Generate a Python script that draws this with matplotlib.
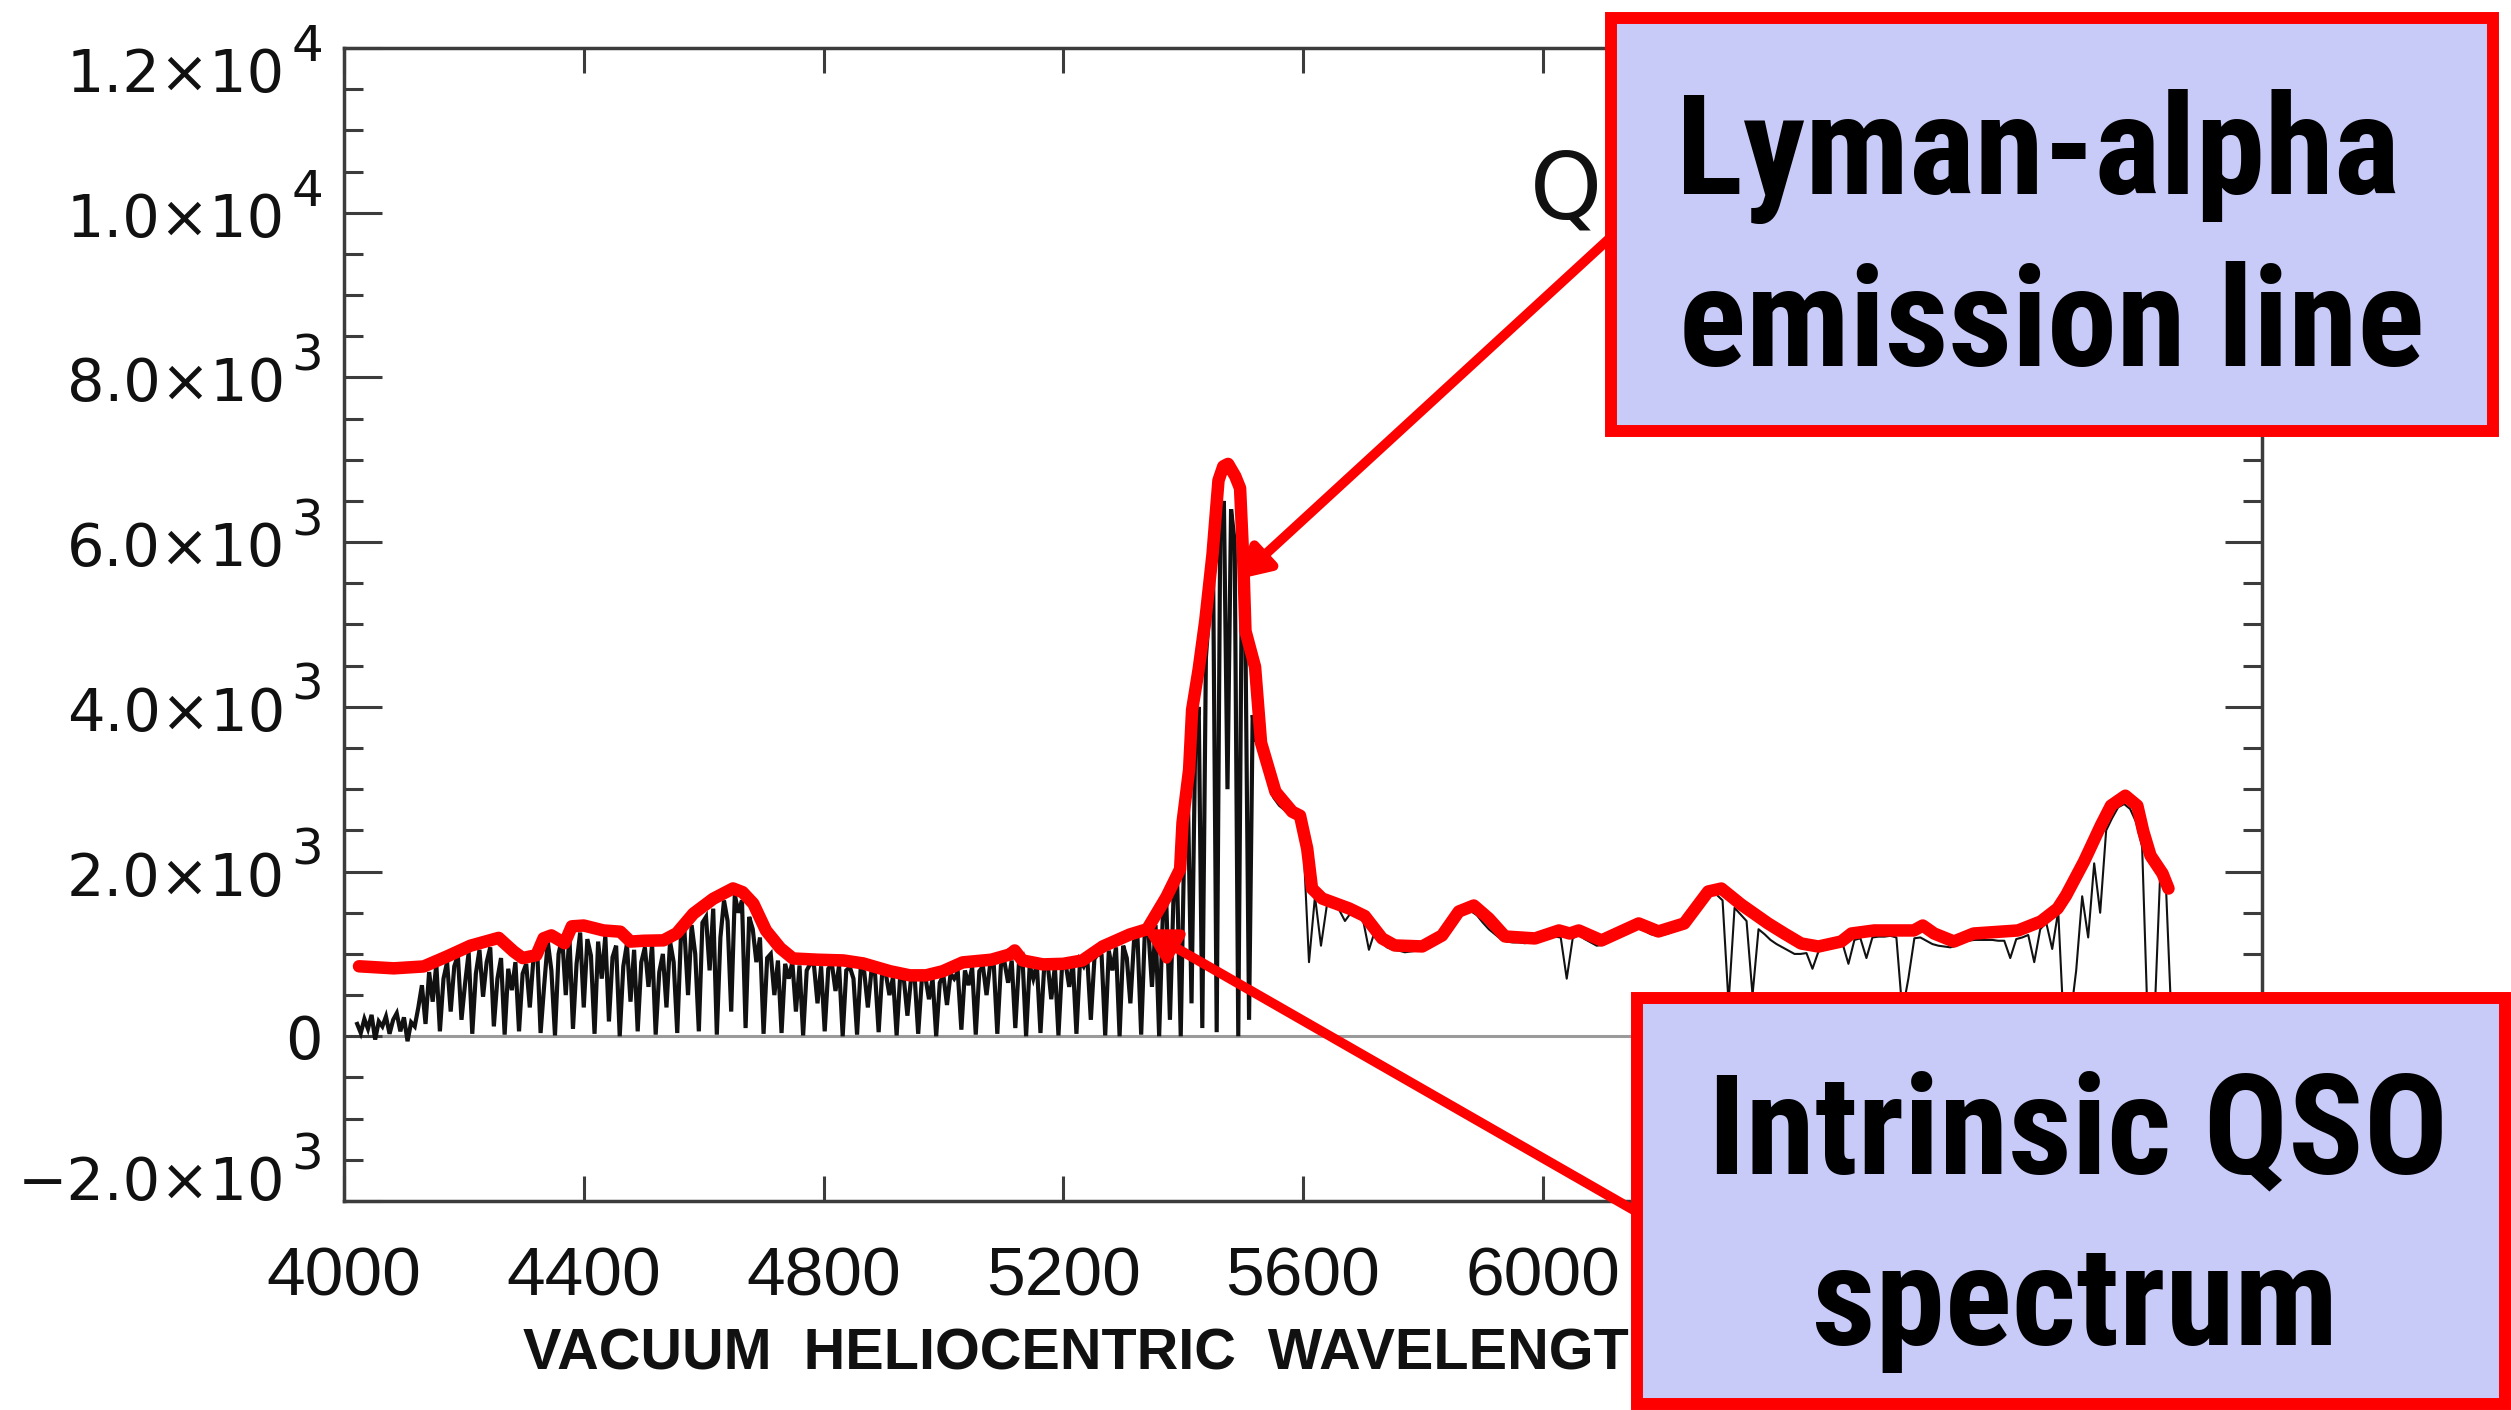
import numpy as np
import matplotlib
matplotlib.use("Agg")
import matplotlib.pyplot as plt
import matplotlib.transforms as mtransforms
from matplotlib.patches import Rectangle
from matplotlib.ticker import MultipleLocator, NullLocator

W, H = 2511, 1410

# --- observed spectrum (black), read off the picture ---
# blue side: 6 A pixels starting at 4022 A (noisy floor, then the Ly-alpha forest)
blue_start, blue_step = 4022, 6
blue_flux = [
    150, 40, 210, 90, 260, -40, 180, 120, 240, 30, 200, 280, 60, 230, -60, 170, 120,  # 4022-4118
    350, 620, 150, 780, 420, 880, 60, 700, 900, 300,          # 4124
    850, 980, 200, 640, 1020, 30, 760, 1050, 480, 900,        # 4184
    1080, 120, 700, 950, 20, 820, 560, 900, 60, 760,          # 4244
    880, 350, 940, 1100, 40, 620, 1150, 800, 10, 1000,        # 4304
    1200, 500, 1230, 90, 880, 1260, 350, 1180, 980, 30,       # 4364
    1150, 700, 1220, 180, 960, 1100, 0, 850, 1120, 420,       # 4424
    1050, 60, 900, 1080, 600, 1120, 20, 780, 1000, 350,       # 4484
    1150, 900, 40, 1200, 1280, 500, 1350, 1000, 60, 1380,     # 4544
    1450, 800, 1550, 20, 1200, 1650, 1400, 300, 1720, 1500,   # 4604
    1650, 100, 1450, 1300, 900, 1200, 30, 950, 1000, 500,     # 4664
    920, 40, 880, 700, 900, 300, 860, 10, 800, 880,           # 4724
    870, 400, 850, 60, 820, 880, 550, 860, 0, 800,            # 4784
    840, 700, 20, 820, 780, 350, 800, 760, 50, 790,           # 4844
    760, 500, 720, 10, 740, 700, 250, 700, 730, 30,           # 4904
    690, 720, 450, 700, 0, 650, 740, 380, 760, 700,           # 4964
    780, 80, 800, 620, 840, 20, 790, 850, 500, 870,           # 5024
    880, 30, 860, 900, 650, 920, 100, 880, 950, 0,            # 5084
    860, 700, 870, 40, 820, 880, 450, 850, 10, 860,           # 5144
    880, 600, 900, 30, 920, 850, 960, 200, 940, 1000,         # 5204
    980, 10, 1040, 800, 1080, 0, 1100, 950, 400, 1150,        # 5264
    1180, 20, 1250, 1300, 600, 1350, 0, 1450, 1600, 200,      # 5324
    1700, 1900, 0, 2400, 2900, 400, 3500, 4000, 100, 4600,    # 5384
    5200, 5700, 50, 6200, 6500, 3000, 6400, 6000, 0, 5600,    # 5444
    4800, 200, 3900, 3600,                                    # 5504
]
# red side: 10 A pixels starting at 5530 A
red_start, red_step = 5530, 10
red_flux = [
    3450, 3150, 2900, 2800, 2740, 2680, 2640, 2450, 900, 1700,    # 5530
    1100, 1600, 1570, 1540, 1400, 1500, 1460, 1420, 1050, 1280,   # 5630
    1150, 1080, 1050, 1040, 1020, 1030, 1040, 1060, 1100, 1150,   # 5730
    1200, 1300, 1420, 1480, 1560, 1520, 1470, 1380, 1300, 1240,   # 5830
    1180, 1150, 1140, 1140, 1130, 1140, 1150, 1170, 1200, 1210,   # 5930
    1200, 700, 1190, 1230, 1180, 1140, 1100, 1110, 1150, 1190,    # 6030
    1230, 1270, 1300, 1310, 1280, 1240, 1220, 1230, 1250, 1280,   # 6130
    1320, 1380, 1470, 1600, 1700, 1740, 1720, 1650, 400, 1560,    # 6230
    1480, 1400, 500, 1300, 1240, 1170, 1120, 1080, 1040, 1000,    # 6330
    1000, 1010, 820, 1030, 1050, 1070, 1100, 1130, 880, 1170,     # 6430
    1190, 950, 1200, 1210, 1210, 1220, 1200, 300, 700, 1190,      # 6530
    1200, 1160, 1120, 1100, 1090, 1080, 1100, 1140, 1160, 1170,   # 6630
    1170, 1170, 1170, 1160, 1160, 950, 1180, 1200, 1230, 900,     # 6730
    1300, 1380, 1060, 1520, 0, 200, 800, 1700, 1200, 2100,        # 6830
    1500, 2500, 2650, 2780, 2820, 2760, 2600, 2300, 0, 100,       # 6930
    1950, 1780, 0,                                                # 7030
]

# --- hand-drawn intrinsic continuum (red) ---
cont_wave = [4025, 4083, 4133, 4172, 4211, 4258, 4283, 4298, 4321, 4333, 4346, 4368,
             4380, 4400, 4433, 4461, 4478, 4500, 4533, 4555, 4583, 4616, 4649, 4665,
             4683, 4704, 4728, 4749, 4790, 4833, 4866, 4911, 4944, 4971, 4999, 5032,
             5080, 5111, 5119, 5132, 5166, 5200, 5232, 5266, 5311, 5340, 5372, 5395,
             5399, 5410, 5415, 5426, 5437, 5449, 5459, 5467, 5475, 5487, 5495, 5500,
             5504, 5520, 5530, 5554, 5582, 5595, 5607, 5615, 5632, 5677, 5703, 5732,
             5753, 5799, 5832, 5860, 5885, 5910, 5937, 5987, 6027, 6045, 6060, 6098,
             6160, 6193, 6236, 6276, 6298, 6331, 6376, 6403, 6431, 6460, 6498, 6515,
             6553, 6619, 6634, 6653, 6686, 6719, 6793, 6831, 6859, 6873, 6903, 6931,
             6948, 6972, 6992, 7002, 7014, 7034, 7044]
cont_flux = [850, 825, 848, 970, 1100, 1195, 1030, 950, 985, 1190, 1225, 1130,
             1335, 1345, 1285, 1270, 1150, 1160, 1165, 1250, 1490, 1670, 1795, 1750,
             1610, 1285, 1070, 945, 930, 921, 885, 790, 740, 740, 790, 897,
             930, 994, 1042, 921, 873, 880, 921, 1091, 1236, 1300, 1690, 2030,
             2594, 3236, 3964, 4460, 5050, 5850, 6750, 6920, 6950, 6800, 6655, 5842,
             4921, 4485, 3564, 2970, 2727, 2679, 2279, 1794, 1673, 1552, 1460, 1188,
             1103, 1091, 1224, 1515, 1588, 1430, 1212, 1188, 1285, 1248, 1285, 1164,
             1370, 1273, 1370, 1758, 1794, 1600, 1370, 1248, 1127, 1090, 1151, 1248,
             1285, 1285, 1345, 1248, 1151, 1248, 1285, 1394, 1552, 1709, 2121, 2558,
             2800, 2921, 2800, 2485, 2194, 1976, 1794]

xtick_vals = [4000, 4400, 4800, 5200, 5600, 6000, 6400, 6800, 7200]
xtick_shown = [4000, 4400, 4800, 5200, 5600, 6000]   # the rest sit under the lower box
ytick_vals = [-2000, 0, 2000, 4000, 6000, 8000, 10000, 12000]
ytick_mant = ["\u22122.0\u00d710", "0", "2.0\u00d710", "4.0\u00d710", "6.0\u00d710",
              "8.0\u00d710", "1.0\u00d710", "1.2\u00d710"]
ytick_exp = ["3", "", "3", "3", "3", "3", "4", "4"]
ytick_nudge = {12000: -20, -2000: 25}   # end labels pulled inward (px)

xlabel_text = "VACUUM  HELIOCENTRIC  WAVELENGTH"
lya_lines = ["Lyman-alpha", "emission line"]
qso_lines = ["Intrinsic QSO", "spectrum"]
lya_target = (5492, 5550)     # where the arrows point (data)
cont_target = (5334, 1300)

blue_wave = blue_start + blue_step * np.arange(len(blue_flux))
red_wave = red_start + red_step * np.arange(len(red_flux))
# red-side segment starts from the last blue pixel so the trace is continuous
red_wave = np.concatenate([blue_wave[-1:], red_wave])
red_flux = np.concatenate([blue_flux[-1:], red_flux])


def fx(px):
    return px / W


def fy(py):
    return 1 - py / H


fig = plt.figure(figsize=(W / 100, H / 100), dpi=100)
fig.patch.set_facecolor("white")
ax = fig.add_axes([fx(344), fy(1201), (2262 - 344) / W, (1201 - 48) / H])

ax.axhline(0, color="#9a9a9a", lw=2.2, zorder=1)
ax.plot(blue_wave, blue_flux, color="#111111", lw=3.0, solid_joinstyle="miter", zorder=2)
ax.plot(red_wave, red_flux, color="#111111", lw=1.5, zorder=2)
ax.plot(cont_wave, cont_flux, color="#ff0000", lw=9, solid_joinstyle="round",
        solid_capstyle="round", zorder=4)

ax.set_xlim(4000, 7200)
ax.set_ylim(-2000, 12000)
ax.set_xticks(xtick_vals)
ax.set_yticks(ytick_vals)
ax.xaxis.set_minor_locator(NullLocator())
ax.yaxis.set_minor_locator(MultipleLocator(500))
ax.tick_params(which="both", direction="in", top=True, right=True,
               labelbottom=False, labelleft=False, color="#3c3c3c", width=2.2)
ax.tick_params(axis="x", which="major", length=18)
ax.tick_params(axis="y", which="major", length=27)
ax.tick_params(axis="y", which="minor", length=14)
for sp in ax.spines.values():
    sp.set_linewidth(2.5)
    sp.set_color("#3c3c3c")

# y tick labels as mantissa + raised exponent
ytr = ax.get_yaxis_transform()
for v, mant, ex in zip(ytick_vals, ytick_mant, ytick_exp):
    nud = ytick_nudge.get(v, 0)
    if ex:
        t1 = mtransforms.offset_copy(ytr, fig=fig, x=-59, y=-24 + nud, units="dots")
        ax.text(0, v, mant, transform=t1, ha="right", va="baseline", fontsize=42.5,
                family="DejaVu Sans", color="#111111", clip_on=False)
        t2 = mtransforms.offset_copy(ytr, fig=fig, x=-21, y=7 + nud, units="dots")
        ax.text(0, v, ex, transform=t2, ha="right", va="baseline", fontsize=36,
                family="DejaVu Sans", color="#111111", clip_on=False)
    else:
        t1 = mtransforms.offset_copy(ytr, fig=fig, x=-21, y=-23 + nud, units="dots")
        ax.text(0, v, mant, transform=t1, ha="right", va="baseline", fontsize=42.5,
                family="DejaVu Sans", color="#111111", clip_on=False)

xtr = mtransforms.offset_copy(ax.get_xaxis_transform(), fig=fig, x=0, y=-94, units="dots")
for v in xtick_shown:
    ax.text(v, 0, str(v), transform=xtr, ha="center", va="baseline", fontsize=50,
            family="Liberation Sans", color="#111111", clip_on=False)

xl_tr = mtransforms.offset_copy(ax.transAxes, fig=fig, x=0, y=-169, units="dots")
ax.text(0.0933, 0, xlabel_text, transform=xl_tr, ha="left", va="baseline",
        fontsize=41.5, family="Liberation Sans", fontweight="bold", color="#111111",
        clip_on=False)

# start of the object name, the rest is behind the upper box
ax.text(fx(1530), fy(219), "Q", transform=fig.transFigure, ha="left",
        va="baseline", fontsize=66, family="DejaVu Sans", fontweight="normal",
        color="#111111", clip_on=False)

# arrows
arrow_kw = dict(arrowstyle="-|>,head_length=0.3,head_width=0.17", color="#ff0000",
                lw=7, shrinkA=0, shrinkB=0, mutation_scale=60)
ax.annotate("", xy=lya_target, xycoords="data", xytext=(fx(1611), fy(237)),
            textcoords="figure fraction", arrowprops=arrow_kw,
            annotation_clip=False, zorder=10)
ax.annotate("", xy=cont_target, xycoords="data", xytext=(fx(1637), fy(1212)),
            textcoords="figure fraction", arrowprops=arrow_kw,
            annotation_clip=False, zorder=10)

# callout boxes
box_fc = "#c8caf8"
for (x0, y0, x1, y1) in [(1611, 18, 2493, 431), (1637, 998, 2505, 1404)]:
    r = Rectangle((fx(x0), fy(y1)), (x1 - x0) / W, (y1 - y0) / H,
                  transform=fig.transFigure, facecolor=box_fc, edgecolor="#ff0000",
                  lw=8.6, joinstyle="miter", zorder=5)
    fig.add_artist(r)

box_font = dict(family=["Liberation Sans Narrow", "Roboto Condensed", "Liberation Sans"],
                fontweight="bold", fontsize=102, color="black",
                ha="center", va="baseline", zorder=6)
box_texts = [
    (fig.text(fx(2038), fy(194), lya_lines[0], **box_font), 724),
    (fig.text(fx(2052), fy(366), lya_lines[1], **box_font), 747),
    (fig.text(fx(2078), fy(1173), qso_lines[0], **box_font), 750),
    (fig.text(fx(2075), fy(1345), qso_lines[1], **box_font), 527),
]
# narrow the callout lettering to the widths seen in the reference
fig.canvas.draw()
rend = fig.canvas.get_renderer()
scale = min(w / t.get_window_extent(rend).width for t, w in box_texts)
scale = min(1.0, max(0.6, scale))
for t, _ in box_texts:
    t.set_fontsize(102 * scale)

fig.savefig("out.png", dpi=100, facecolor="white")
